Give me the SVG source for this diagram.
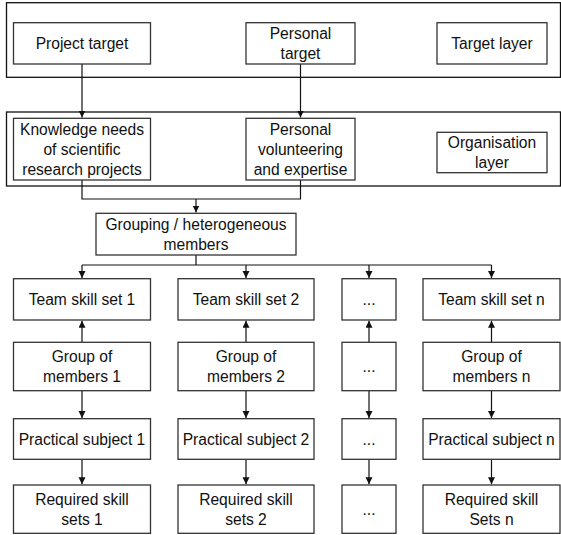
<svg xmlns="http://www.w3.org/2000/svg" width="561" height="535" viewBox="0 0 561 535">
<defs>
<style>
.frame{fill:none;stroke:#111;stroke-width:1.3}
.box{fill:#fff;stroke:#333;stroke-width:1.3}
.t{font-family:"Liberation Sans",Arial,sans-serif;font-size:15.6px;fill:#111;text-anchor:middle}
.c{fill:none;stroke:#111;stroke-width:1.2}
</style>
<marker id="ah" markerUnits="userSpaceOnUse" markerWidth="8" markerHeight="8" refX="7" refY="3.5" orient="auto">
<path d="M0,0 L7,3.5 L0,7 z" fill="#111"/>
</marker>
</defs>
<rect width="561" height="535" fill="#fff"/>
<g id="target-layer-frame"><rect class="frame" x="6.5" y="2.7" width="554" height="74.6"/></g>
<g id="organisation-layer-frame"><rect class="frame" x="6.5" y="112" width="554" height="74"/></g>

<g id="connectors">
<path class="c" d="M82,64 V117.5" marker-end="url(#ah)"/>
<path class="c" d="M300.5,64 V117.5" marker-end="url(#ah)"/>
<path class="c" d="M82,180 V199 H300.5 V180"/>
<path class="c" d="M196,199 V212.5" marker-end="url(#ah)"/>
<path class="c" d="M196,255 V265"/>
<path class="c" d="M82,265 H491.5"/>
<path class="c" d="M82,265 V278" marker-end="url(#ah)"/>
<path class="c" d="M246,265 V278" marker-end="url(#ah)"/>
<path class="c" d="M369,265 V278" marker-end="url(#ah)"/>
<path class="c" d="M491.5,265 V278" marker-end="url(#ah)"/>
<path class="c" d="M82,342.3 V320.7" marker-end="url(#ah)"/>
<path class="c" d="M246,342.3 V320.7" marker-end="url(#ah)"/>
<path class="c" d="M369,342.3 V320.7" marker-end="url(#ah)"/>
<path class="c" d="M491.5,342.3 V320.7" marker-end="url(#ah)"/>
<path class="c" d="M82,390.7 V418" marker-end="url(#ah)"/>
<path class="c" d="M246,390.7 V418" marker-end="url(#ah)"/>
<path class="c" d="M369,390.7 V418" marker-end="url(#ah)"/>
<path class="c" d="M491.5,390.7 V418" marker-end="url(#ah)"/>
<path class="c" d="M82,459.3 V484.3" marker-end="url(#ah)"/>
<path class="c" d="M246,459.3 V484.3" marker-end="url(#ah)"/>
<path class="c" d="M369,459.3 V484.3" marker-end="url(#ah)"/>
<path class="c" d="M491.5,459.3 V484.3" marker-end="url(#ah)"/>
</g>

<g id="project-target"><rect class="box" x="13.5" y="22.7" width="137" height="41.3"/><text class="t" x="82" y="49">Project target</text></g>
<g id="personal-target"><rect class="box" x="246" y="22.7" width="109" height="41.3"/><text class="t" x="300.5" y="39">Personal</text><text class="t" x="300.5" y="59">target</text></g>
<g id="target-layer"><rect class="box" x="437" y="22.7" width="110" height="41.3"/><text class="t" x="492" y="49">Target layer</text></g>

<g id="knowledge-needs"><rect class="box" x="13.5" y="118.3" width="137" height="61.7"/><text class="t" x="82" y="134.6">Knowledge needs</text><text class="t" x="82" y="154.6">of scientific</text><text class="t" x="82" y="174.6">research projects</text></g>
<g id="personal-volunteering"><rect class="box" x="246" y="118.3" width="109" height="61.7"/><text class="t" x="300.5" y="134.6">Personal</text><text class="t" x="300.5" y="154.6">volunteering</text><text class="t" x="300.5" y="174.6">and expertise</text></g>
<g id="organisation-layer"><rect class="box" x="437" y="132.3" width="110" height="40.4"/><text class="t" x="492" y="148">Organisation</text><text class="t" x="492" y="168">layer</text></g>

<g id="grouping"><rect class="box" x="96" y="213.3" width="200" height="41.7"/><text class="t" x="196" y="229.6">Grouping / heterogeneous</text><text class="t" x="196" y="249.6">members</text></g>

<g id="team-1"><rect class="box" x="13.5" y="278.7" width="137" height="41.3"/><text class="t" x="82" y="305">Team skill set 1</text></g>
<g id="team-2"><rect class="box" x="178" y="278.7" width="136" height="41.3"/><text class="t" x="246" y="305">Team skill set 2</text></g>
<g id="team-dots"><rect class="box" x="342" y="278.7" width="54" height="41.3"/><text class="t" x="369" y="305">...</text></g>
<g id="team-n"><rect class="box" x="423" y="278.7" width="137" height="41.3"/><text class="t" x="491.5" y="305">Team skill set n</text></g>

<g id="group-1"><rect class="box" x="13.5" y="342.3" width="137" height="48.4"/><text class="t" x="82" y="362">Group of</text><text class="t" x="82" y="382">members 1</text></g>
<g id="group-2"><rect class="box" x="178" y="342.3" width="136" height="48.4"/><text class="t" x="246" y="362">Group of</text><text class="t" x="246" y="382">members 2</text></g>
<g id="group-dots"><rect class="box" x="342" y="342.3" width="54" height="48.4"/><text class="t" x="369" y="372">...</text></g>
<g id="group-n"><rect class="box" x="423" y="342.3" width="137" height="48.4"/><text class="t" x="491.5" y="362">Group of</text><text class="t" x="491.5" y="382">members n</text></g>

<g id="practical-1"><rect class="box" x="13.5" y="418.7" width="137" height="40.6"/><text class="t" x="82" y="444.5">Practical subject 1</text></g>
<g id="practical-2"><rect class="box" x="178" y="418.7" width="136" height="40.6"/><text class="t" x="246" y="444.5">Practical subject 2</text></g>
<g id="practical-dots"><rect class="box" x="342" y="418.7" width="54" height="40.6"/><text class="t" x="369" y="444.5">...</text></g>
<g id="practical-n"><rect class="box" x="423" y="418.7" width="137" height="40.6"/><text class="t" x="491.5" y="444.5">Practical subject n</text></g>

<g id="required-1"><rect class="box" x="13.5" y="485" width="137" height="48.3"/><text class="t" x="82" y="504.6">Required skill</text><text class="t" x="82" y="524.6">sets 1</text></g>
<g id="required-2"><rect class="box" x="178" y="485" width="136" height="48.3"/><text class="t" x="246" y="504.6">Required skill</text><text class="t" x="246" y="524.6">sets 2</text></g>
<g id="required-dots"><rect class="box" x="342" y="485" width="54" height="48.3"/><text class="t" x="369" y="514.6">...</text></g>
<g id="required-n"><rect class="box" x="423" y="485" width="137" height="48.3"/><text class="t" x="491.5" y="504.6">Required skill</text><text class="t" x="491.5" y="524.6">Sets n</text></g>
</svg>
